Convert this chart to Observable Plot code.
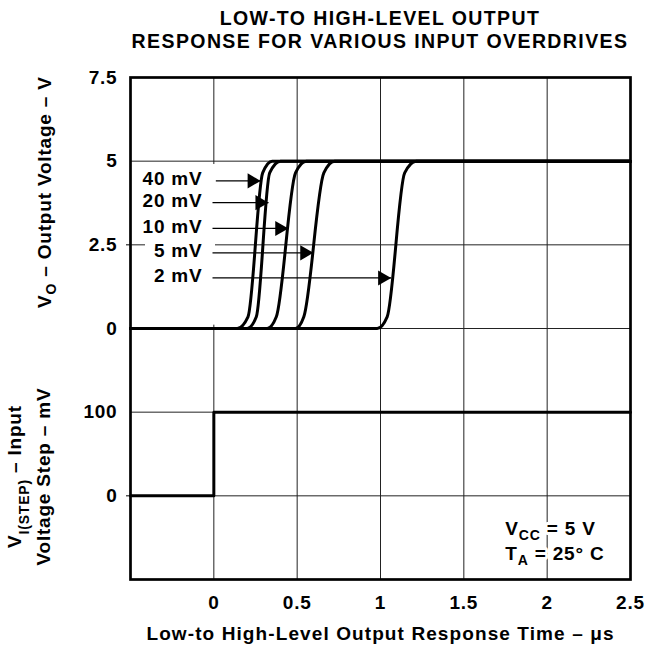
<!DOCTYPE html>
<html><head><meta charset="utf-8">
<script src="https://cdn.jsdelivr.net/npm/d3@7"></script>
<script src="https://cdn.jsdelivr.net/npm/@observablehq/plot@0.6"></script>
<style>
body{margin:0;background:#fff;}
#title{box-sizing:border-box;height:56px;padding-top:7px;padding-left:80px;width:659px;}
#title div{width:600px;text-align:center;white-space:nowrap;font:bold 19.5px/23px "Liberation Sans", Arial, sans-serif;letter-spacing:1.4px;color:#000;}
#chart svg{display:block;}
</style></head><body>
<div id="title"><div>LOW-TO HIGH-LEVEL OUTPUT<br>RESPONSE FOR VARIOUS INPUT OVERDRIVES</div></div>
<div id="chart"></div>
<script>
// ---- data ----
const overdrives = ["40 mV", "20 mV", "10 mV", "5 mV", "2 mV"];
// output voltage traces (time in µs, volts)
const trace40t = [-0.5, 0.14, 0.205, 0.293, 0.35, 2.5];
const trace40v = [0, 0, 0.35, 4.65, 5, 5];
const trace20t = [-0.5, 0.20, 0.255, 0.335, 0.40, 2.5];
const trace20v = [0, 0, 0.35, 4.65, 5, 5];
const trace10t = [-0.5, 0.32, 0.375, 0.49, 0.555, 2.5];
const trace10v = [0, 0, 0.35, 4.65, 5, 5];
const trace5t  = [-0.5, 0.49, 0.54, 0.66, 0.725, 2.5];
const trace5v  = [0, 0, 0.35, 4.65, 5, 5];
const trace2t  = [-0.5, 0.98, 1.04, 1.145, 1.215, 2.5];
const trace2v  = [0, 0, 0.35, 4.65, 5, 5];
// input step (time in µs, mV)
const stepTime = [-0.5, 0, 2.5];
const stepMV = [0, 100, 100];
// arrow callouts (volts level, start time, tip time)
const arrowV = [4.41, 3.76, 2.99, 2.26, 1.51];
const arrowStart = [0.012, -0.008, -0.008, -0.008, -0.008];
const arrowTip = [0.281, 0.328, 0.447, 0.597, 1.064];
const calloutLabelX = -0.068;
// ticks
const xTickValues = [0, 0.5, 1, 1.5, 2, 2.5];
const xTickLabels = ["0", "0.5", "1", "1.5", "2", "2.5"];
const voltTicks = [0, 2.5, 5, 7.5];
const voltTickLabels = ["0", "2.5", "5", "7.5"];
const mvTicks = [0, 100];
const mvTickLabels = ["0", "100"];
// texts
const xTitle = "Low-to High-Level Output Response Time – μs";
const yTitleTop = "V_{O} – Output Voltage – V";
const yTitleBottom1 = "V_{I(STEP)} – Input";
const yTitleBottom2 = "Voltage Step – mV";
const notes = ["V_{CC} = 5 V", "T_{A} = 25° C"];
const notesMV = [-39, -69];
const notesTime = [1.749, 1.749];
// background box behind callout labels (time, volts)
const labelBox = [{t1: -0.41, t2: 0.01, v1: 0.1, v2: 4.9}];

// ---- band mapping: upper band volts (0..7.5), lower band mV (-100..200) ----
const yV = v => 3 + v / 2.5;
const yMV = mv => 1 + mv / 100;

const traces = [[trace40t, trace40v], [trace20t, trace20v], [trace10t, trace10v], [trace5t, trace5v], [trace2t, trace2v]];
const curveData = traces.flatMap(([ts, vs], k) => ts.map((t, i) => ({od: overdrives[k], t, v: vs[i]})));
const stepData = stepTime.map((t, i) => ({t, mv: stepMV[i]}));
const arrows = overdrives.map((label, i) => ({label, v: arrowV[i], x0: arrowStart[i], tip: arrowTip[i]}));
const noteData = notes.map((text, i) => ({text, mv: notesMV[i], t: notesTime[i]}));

const yTickPos = [...voltTicks.map(yV), ...mvTicks.map(yMV)];
const yTickText = new Map([...voltTicks.map((v, i) => [yV(v), voltTickLabels[i]]), ...mvTicks.map((m, i) => [yMV(m), mvTickLabels[i]])]);
const xTickText = new Map(xTickValues.map((v, i) => [v, xTickLabels[i]]));
const yGrid = [...voltTicks.slice(0, 3).map(yV), ...mvTicks.map(yMV)];
const xGrid = xTickValues.slice(0, 5);

const plot = Plot.plot({
  width: 659, height: 596,
  marginTop: 21, marginBottom: 73, marginLeft: 130, marginRight: 29,
  x: {domain: [-0.5, 2.5]},
  y: {domain: [0, 6]},
  style: "font-family: 'Liberation Sans', Arial, sans-serif; font-size: 19px; font-weight: bold; letter-spacing: 0.8px; color: #000; background: #fff;",
  marks: [
    Plot.ruleX(xGrid, {stroke: "#222", strokeWidth: 1}),
    Plot.ruleY(yGrid, {stroke: "#222", strokeWidth: 1}),
    Plot.rect(labelBox, {x1: "t1", x2: "t2", y1: d => yV(d.v1), y2: d => yV(d.v2), fill: "white"}),
    Plot.axisY({ticks: yTickPos, tickFormat: d => yTickText.get(d), tickSize: 0, tickPadding: 13}),
    Plot.axisY({ticks: [yV(2.5), yMV(0)], tickFormat: () => "", tickSize: 4, strokeWidth: 1}),
    Plot.axisX({ticks: xTickValues, tickFormat: d => xTickText.get(d), tickSize: 0, tickPadding: 16}),
    Plot.line(stepData, {x: "t", y: d => yMV(d.mv), curve: "step-after", stroke: "black", strokeWidth: 3}),
    Plot.line(curveData, {x: "t", y: d => yV(d.v), z: "od", curve: "monotone-x", stroke: "black", strokeWidth: 3, strokeLinejoin: "round"}),
    Plot.link(arrows, {x1: "x0", x2: "tip", y1: d => yV(d.v), y2: d => yV(d.v), stroke: "black", strokeWidth: 1.3}),
    Plot.dot(arrows, {x: "tip", y: d => yV(d.v), symbol: "triangle", rotate: 90, r: 5.6, fill: "black", dx: -8.7}),
    Plot.text(arrows, {x: () => calloutLabelX, y: d => yV(d.v), text: "label", textAnchor: "end", dy: -2}),
    Plot.text(noteData, {x: "t", y: d => yMV(d.mv), text: "text", textAnchor: "start", stroke: "white", strokeWidth: 6, paintOrder: "stroke", fill: "black"}),
    Plot.text([yTitleTop], {frameAnchor: "left", y: () => 4.63, rotate: -90, textAnchor: "middle", lineAnchor: "middle", dx: -86}),
    Plot.text([yTitleBottom1], {frameAnchor: "left", y: () => 1.23, rotate: -90, textAnchor: "middle", lineAnchor: "middle", dx: -116}),
    Plot.text([yTitleBottom2], {frameAnchor: "left", y: () => 1.23, rotate: -90, textAnchor: "middle", lineAnchor: "middle", dx: -87}),
    Plot.text([xTitle], {frameAnchor: "bottom", lineAnchor: "middle", textAnchor: "middle", dy: 54}),
    Plot.frame({stroke: "black", strokeWidth: 2.7})
  ]
});

// subscripts: turn "_{...}" into real subscript tspans
function applySubscripts(root) {
  const ns = "http://www.w3.org/2000/svg";
  root.querySelectorAll("text").forEach(t => {
    const s = t.textContent;
    if (!s.includes("_{")) return;
    const drop = s.startsWith("V_{I(STEP)}") ? 8 : 5;
    t.textContent = "";
    const re = /_\{([^}]*)\}/g;
    let last = 0, m, shift = 0;
    const add = (str, sub) => {
      const ts = document.createElementNS(ns, "tspan");
      ts.textContent = str;
      if (sub) { ts.setAttribute("dy", String(drop)); ts.style.fontSize = "14px"; shift = drop; }
      else if (shift) { ts.setAttribute("dy", String(-shift)); shift = 0; }
      t.appendChild(ts);
    };
    while ((m = re.exec(s))) {
      if (m.index > last) add(s.slice(last, m.index), false);
      add(m[1], true);
      last = re.lastIndex;
    }
    if (last < s.length) add(s.slice(last), false);
  });
}
applySubscripts(plot);
plot.querySelectorAll("text").forEach(t => { if (t.textContent.includes("Response Time")) t.style.letterSpacing = "1.1px"; });
document.getElementById("chart").appendChild(plot);
</script>
</body></html>
